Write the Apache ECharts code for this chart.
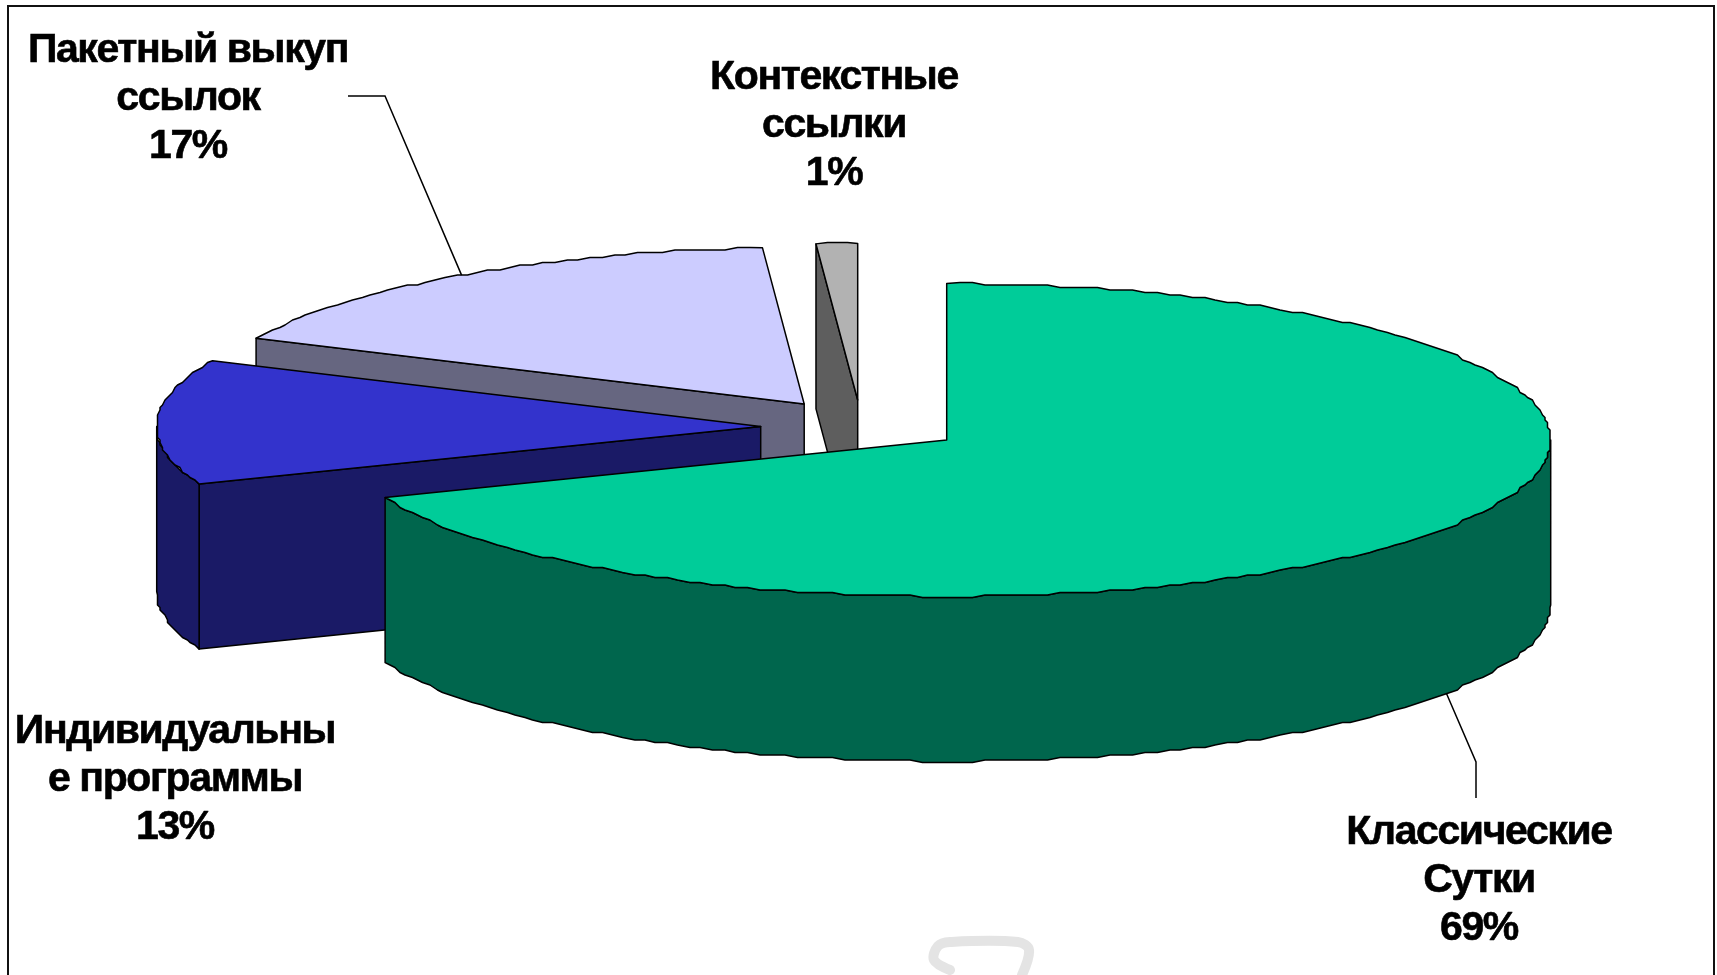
<!DOCTYPE html>
<html><head><meta charset="utf-8">
<style>html,body{margin:0;padding:0;background:#fff}#c{width:1717px;height:975px}</style>
<script src="https://cdn.jsdelivr.net/npm/echarts@6/dist/echarts.min.js"></script>
</head><body><div id="c"></div>
<script>
const categories = ['Классические\nСутки', 'Индивидуальны\nе программы', 'Пакетный выкуп\nссылок', 'Контекстные\nссылки'];
const values = [69, 12.9, 17, 1.1];
const topColors = ['#00CC99', '#3333CC', '#CCCCFF', '#B2B2B2'];
const wallColors = ['#00664D', '#1A1A66', '#666680', '#5E5E5E'];
const explodeOffsets = [[0, 0], [-186, -13.5], [-142.5, -36], [-89, -40]];
const labelCentres = [[1479, 880.5], [175, 779.5], [188, 98.5], [834, 125.5]];
const leaderBends = [[[1476, 762], [1476, 798]], null, [[385, 96], [348, 96]], null];

// The reference's labels are set wide and tight: glyphs nearly touch.
const LABEL_TRACKING = '-1.4px';
const proto = CanvasRenderingContext2D.prototype;
['fillText', 'strokeText'].forEach(name => {
  const native = proto[name];
  proto[name] = function (...args) {
    this.letterSpacing = LABEL_TRACKING;
    native.apply(this, args);
    this.letterSpacing = '0px';
  };
});

const CX = 946.7, CY = 440, RX = 604, RY = 156.5, DEPTH = 165, STEP = 2.5;
const total = values.reduce((a, b) => a + b, 0);
const rad = d => d * Math.PI / 180;
const rim = (c, a, dy) => [c[0] + RX * Math.sin(rad(a)), c[1] - RY * Math.cos(rad(a)) + (dy || 0)];
const snap = v => Math.round(v / STEP) * STEP;
// The rim of the original is a coarse polygon, so interior points snap to a small grid.
function arc(c, a0, a1, dy) {
  const pts = [], n = Math.max(2, Math.ceil(Math.abs(a1 - a0) / 1.2));
  for (let i = 0; i <= n; i++) {
    const p = rim(c, a0 + (a1 - a0) * i / n, dy);
    pts.push(i === 0 || i === n ? p : [snap(p[0]), snap(p[1])]);
  }
  return pts;
}
const line = {stroke: '#000', lineWidth: 1.5, lineJoin: 'round'};

function renderItem(params, api) {
  const i = params.dataIndex, value = api.value(0);
  let start = 0;
  for (let k = 0; k < i; k++) start += values[k] / total * 360;
  const end = start + value / total * 360;
  const c = [CX + explodeOffsets[i][0], CY + explodeOffsets[i][1]];
  const order = (values.length - i) * 10;
  const kids = [];
  const poly = (points, fill, z) => kids.push({type: 'polygon', z2: order + z, shape: {points},
    style: Object.assign({fill}, line)});
  const wall = a => poly([c, rim(c, a), rim(c, a, DEPTH), [c[0], c[1] + DEPTH]], wallColors[i], 1);
  if (Math.sin(rad(start)) < -1e-6) wall(start);
  if (Math.sin(rad(end)) > 1e-6) wall(end);
  const w0 = Math.max(start, 90), w1 = Math.min(end, 270);
  if (w1 > w0) poly(arc(c, w0, w1).concat(arc(c, w1, w0, DEPTH)), wallColors[i], 2);
  poly([c].concat(arc(c, start, end)), topColors[i], 3);
  const bends = leaderBends[i];
  if (bends) {
    const mid = (start + end) / 2, visibleFront = mid > 90 && mid < 270;
    kids.push({type: 'polyline', z2: 100, shape: {points: [rim(c, mid, visibleFront ? DEPTH : 0)].concat(bends)},
      style: {stroke: '#000', lineWidth: 1.5, fill: null}});
  }
  kids.push({type: 'text', z2: 101, style: {
    x: labelCentres[i][0], y: labelCentres[i][1],
    text: categories[i] + '\n' + Math.round(value) + '%',
    font: 'bold 41px "Liberation Sans", Arial, sans-serif',
    lineHeight: 48, fill: '#000', stroke: '#000', lineWidth: 0.6,
    align: 'center', verticalAlign: 'middle'
  }});
  return {type: 'group', children: kids};
}

const chart = echarts.init(document.getElementById('c'));
chart.setOption({
  backgroundColor: '#fff',
  animation: false,
  graphic: [
    {type: 'polyline', silent: true, shape: {points: [[8, 975], [8, 6], [1714, 6], [1714, 975]]},
      style: {stroke: '#111', lineWidth: 2, fill: null}},
    {type: 'polyline', silent: true, shape: {smooth: 0.35, points: [[950, 970], [934, 960], [938, 946], [950, 942], [1018, 942], [1029, 950], [1022, 975]]},
      style: {stroke: '#E4E4E4', lineWidth: 10, fill: null, lineCap: 'round'}}
  ],
  series: [{
    type: 'custom', coordinateSystem: 'none', silent: true, clip: false,
    renderItem,
    data: values.map(v => [v])
  }]
});
</script></body></html>
